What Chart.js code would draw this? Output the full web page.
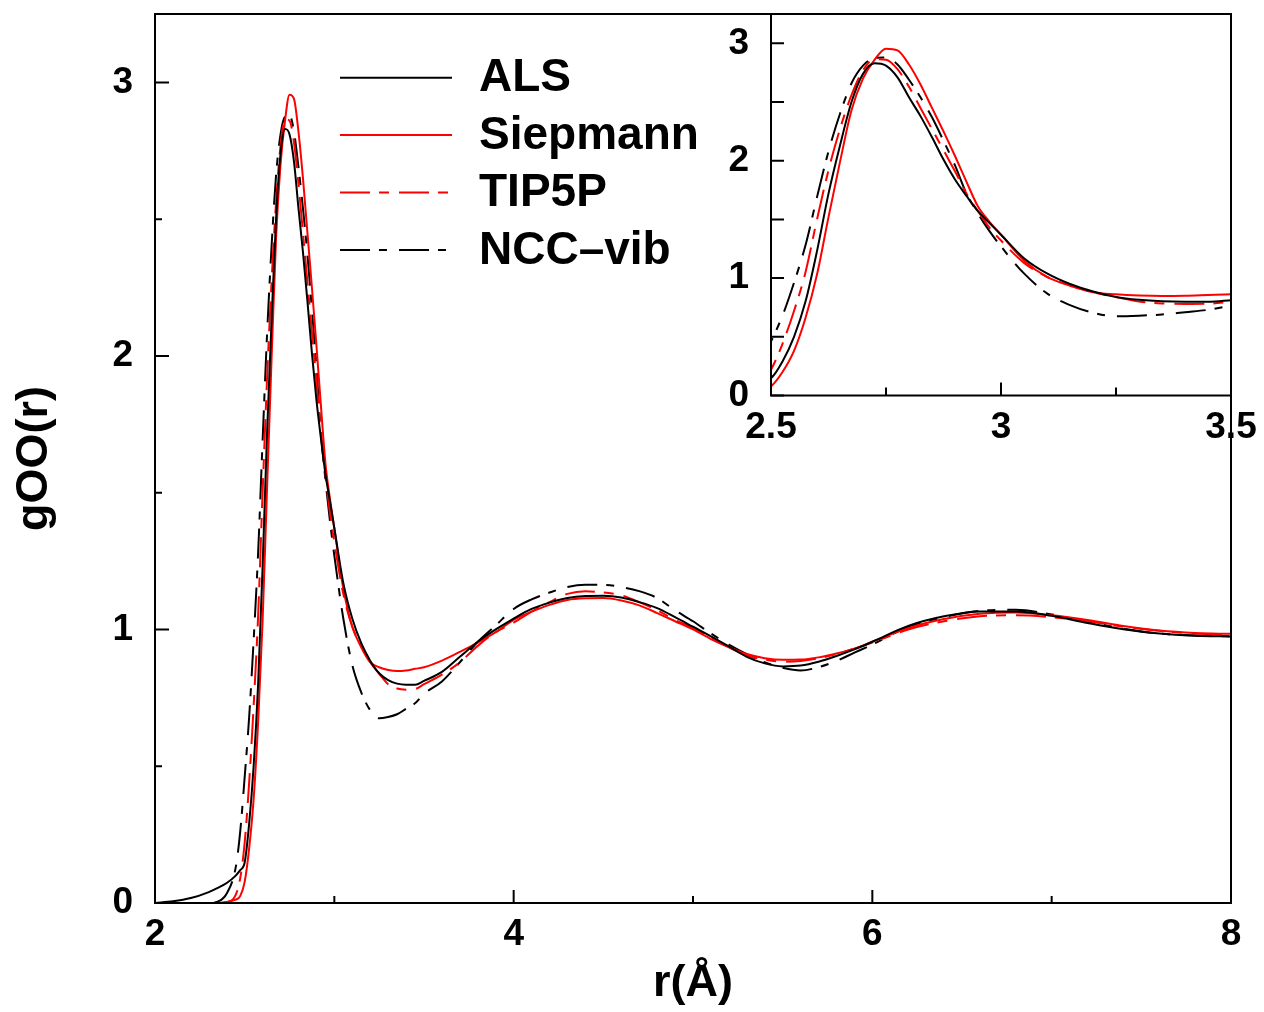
<!DOCTYPE html>
<html><head><meta charset="utf-8">
<script src="https://cdn.jsdelivr.net/npm/chart.js@4"></script>
<style>
html,body{margin:0;padding:0;background:#fff;}
#wrap{position:relative;width:1264px;height:1012px;overflow:hidden;}
#main{position:absolute;left:0;top:0;width:1264px;height:1012px;}
#inset{position:absolute;left:700px;top:0;width:564px;height:460px;}
</style></head><body>
<div id="wrap"><canvas id="main" width="1264" height="1012"></canvas><canvas id="inset" width="564" height="460"></canvas></div>
<script>
// ---- data ----
const r = [2.0, 2.1, 2.2, 2.3, 2.35, 2.4, 2.45, 2.475,
  2.5, 2.525, 2.55, 2.575, 2.6, 2.625, 2.65, 2.675, 2.7, 2.725, 2.75, 2.775, 2.8, 2.825, 2.85, 2.875, 2.9, 2.925, 2.95, 2.975, 3.0,
  3.05, 3.1, 3.15, 3.2, 3.25, 3.3, 3.35, 3.4, 3.45, 3.5,
  3.6, 3.7, 3.8, 3.9, 4.0, 4.1, 4.2, 4.3, 4.4, 4.5, 4.6, 4.7, 4.8, 4.9, 5.0, 5.1, 5.2, 5.3, 5.4, 5.5, 5.6, 5.7, 5.8, 5.9, 6.0,
  6.2, 6.4, 6.6, 6.8, 7.0, 7.2, 7.4, 7.6, 7.8, 8.0];
const als = [0, 0.006, 0.018, 0.04, 0.055, 0.073, 0.10, 0.12,
  0.148, 0.29, 0.50, 0.80, 1.23, 1.72, 2.13, 2.50, 2.74, 2.83, 2.81, 2.71, 2.54, 2.38, 2.20, 2.01, 1.84, 1.70, 1.57, 1.47, 1.37,
  1.17, 1.04, 0.95, 0.886, 0.84, 0.815, 0.802, 0.798, 0.798, 0.812,
  0.845, 0.90, 0.955, 1.00, 1.04, 1.075, 1.098, 1.115, 1.122, 1.123, 1.117, 1.10, 1.078, 1.045, 1.01, 0.975, 0.938, 0.90, 0.876, 0.865, 0.868, 0.882, 0.903, 0.927, 0.955,
  1.013, 1.048, 1.066, 1.066, 1.05, 1.024, 1.001, 0.985, 0.977, 0.974];
const siepmann = [0, 0, 0, 0, 0, 0.004, 0.012, 0.025,
  0.077, 0.20, 0.38, 0.66, 1.03, 1.52, 1.99, 2.43, 2.70, 2.86, 2.955, 2.94, 2.82, 2.65, 2.45, 2.25, 2.04, 1.82, 1.61, 1.48, 1.37,
  1.15, 1.01, 0.935, 0.88, 0.862, 0.852, 0.848, 0.85, 0.856, 0.862,
  0.886, 0.918, 0.952, 0.99, 1.035, 1.065, 1.09, 1.108, 1.114, 1.115, 1.106, 1.088, 1.06, 1.03, 1.0, 0.965, 0.935, 0.91, 0.895, 0.889, 0.89, 0.898, 0.912, 0.93, 0.955,
  1.005, 1.038, 1.057, 1.062, 1.052, 1.035, 1.013, 0.996, 0.987, 0.984];
const tip5p = [0, 0, 0, 0, 0, 0.003, 0.03, 0.09,
  0.22, 0.44, 0.72, 1.05, 1.50, 1.92, 2.27, 2.56, 2.77, 2.865, 2.86, 2.78, 2.63, 2.45, 2.27, 2.09, 1.91, 1.72, 1.57, 1.43, 1.32,
  1.13, 1.01, 0.94, 0.88, 0.838, 0.80, 0.784, 0.78, 0.782, 0.80,
  0.835, 0.88, 0.94, 0.99, 1.025, 1.065, 1.10, 1.13, 1.14, 1.135, 1.125, 1.10, 1.07, 1.035, 1.005, 0.97, 0.935, 0.905, 0.89, 0.882, 0.885, 0.895, 0.91, 0.93, 0.952,
  1.0, 1.03, 1.048, 1.052, 1.045, 1.03, 1.01, 0.995, 0.985, 0.98];
const nccvib = [0, 0, 0, 0, 0.005, 0.035, 0.13, 0.26,
  0.46, 0.68, 0.96, 1.28, 1.69, 2.08, 2.40, 2.66, 2.81, 2.875, 2.88, 2.82, 2.69, 2.54, 2.37, 2.17, 1.96, 1.72, 1.55, 1.40, 1.27,
  1.04, 0.87, 0.77, 0.705, 0.675, 0.68, 0.69, 0.71, 0.73, 0.765,
  0.81, 0.88, 0.955, 1.015, 1.075, 1.11, 1.135, 1.155, 1.163, 1.163, 1.155, 1.14, 1.115, 1.07, 1.03, 0.985, 0.945, 0.91, 0.88, 0.86, 0.85, 0.862, 0.885, 0.915, 0.945,
  1.01, 1.045, 1.068, 1.072, 1.055, 1.028, 1.003, 0.985, 0.978, 0.975];
const seriesNames = ['ALS', 'Siepmann', 'TIP5P', 'NCC\u2013vib'];
const mainXTicks = [2, 4, 6, 8];
const mainXMinor = [3, 5, 7];
const mainYTicks = [0, 1, 2, 3];
const mainYMinor = [0.5, 1.5, 2.5];
const insetXTicks = [2.5, 3, 3.5];
const insetXMinor = [2.75, 3.25];
const insetYTicks = [0, 1, 2, 3];
const insetYMinor = [0.5, 1.5, 2.5];

const FONT = '"Liberation Sans", Arial, Helvetica, sans-serif';

function makeDatasets() {
  const styles = [
    {c: '#000000', d: []},
    {c: '#ff0000', d: []},
    {c: '#ff0000', d: [30, 9, 10, 10]},
    {c: '#000000', d: [30, 9, 8, 12]}
  ];
  return [als, siepmann, tip5p, nccvib].map((vals, i) => ({
    label: seriesNames[i],
    data: r.map((x, k) => ({x: x, y: vals[k]})),
    borderColor: styles[i].c,
    borderDash: styles[i].d,
    borderWidth: 2,
    pointRadius: 0,
    fill: false,
    cubicInterpolationMode: 'monotone'
  }));
}

const frameTicks = {
  id: 'frameTicks',
  beforeDatasetsDraw(chart, args, o) {
    if (!o.fillArea) return;
    const {ctx, chartArea: a} = chart;
    ctx.save(); ctx.fillStyle = '#fff';
    ctx.fillRect(a.left, a.top, a.right - a.left, a.bottom - a.top);
    ctx.restore();
  },
  afterDraw(chart, args, o) {
    const {ctx, chartArea: a, scales: {x, y}} = chart;
    ctx.save();
    ctx.strokeStyle = '#000'; ctx.lineWidth = 2; ctx.setLineDash([]);
    ctx.strokeRect(a.left, a.top, a.right - a.left, a.bottom - a.top);
    ctx.beginPath();
    const xt = (vals, len) => vals.forEach(v => { const p = x.getPixelForValue(v); ctx.moveTo(p, a.bottom); ctx.lineTo(p, a.bottom - len); });
    const yt = (vals, len) => vals.forEach(v => { const p = y.getPixelForValue(v); ctx.moveTo(a.left, p); ctx.lineTo(a.left + len, p); });
    xt(o.xMajor, o.xMajorLen); xt(o.xMinor, o.xMinorLen);
    yt(o.yMajor, o.yMajorLen); yt(o.yMinor, o.yMinorLen);
    ctx.stroke();
    ctx.restore();
  }
};

const lineLegend = {
  id: 'lineLegend',
  afterDraw(chart, args, o) {
    if (!o.show) return;
    const ctx = chart.ctx;
    ctx.save();
    ctx.font = 'bold 46px ' + FONT;
    ctx.textBaseline = 'middle';
    ctx.textAlign = 'left';
    chart.data.datasets.forEach((ds, i) => {
      const yy = o.y0 + i * o.dy;
      ctx.strokeStyle = ds.borderColor; ctx.lineWidth = ds.borderWidth;
      ctx.setLineDash(ds.borderDash || []);
      ctx.beginPath(); ctx.moveTo(o.x0, yy); ctx.lineTo(o.x1, yy); ctx.stroke();
      ctx.setLineDash([]);
      ctx.fillStyle = '#000';
      ctx.fillText(ds.label, o.tx, yy + o.ty);
    });
    ctx.restore();
  }
};

function zeroPad(s) { s.paddingTop = 0; s.paddingBottom = 0; s.paddingLeft = 0; s.paddingRight = 0; }
const tickFont = {family: FONT, size: 37, weight: 'bold'};
const plainLabel = v => String(v);

new Chart(document.getElementById('main'), {
  type: 'line',
  data: {datasets: makeDatasets()},
  plugins: [frameTicks, lineLegend],
  options: {
    responsive: false, animation: false, devicePixelRatio: 1,
    layout: {padding: {top: 14, right: 33, left: 0, bottom: 0}},
    plugins: {
      legend: {display: false}, tooltip: {enabled: false},
      frameTicks: {xMajor: mainXTicks, xMinor: mainXMinor, yMajor: mainYTicks, yMinor: mainYMinor,
        xMajorLen: 13, xMinorLen: 7, yMajorLen: 14, yMinorLen: 7, fillArea: false},
      lineLegend: {show: true, x0: 340, x1: 452, y0: 77.7, dy: 57.4, tx: 479, ty: 1}
    },
    scales: {
      x: {
        type: 'linear', min: 2, max: 8,
        afterBuildTicks: s => { s.ticks = mainXTicks.map(v => ({value: v})); },
        afterFit: s => { s.height = 109; zeroPad(s); },
        grid: {display: false, drawTicks: false}, border: {display: false},
        ticks: {font: tickFont, color: '#000', padding: 10, maxRotation: 0, callback: plainLabel},
        title: {display: true, text: 'r(\u00C5)', color: '#000', font: {family: FONT, size: 45, weight: 'bold'}, padding: {top: 0, bottom: 1}}
      },
      y: {
        type: 'linear', min: 0, max: 3.25,
        afterBuildTicks: s => { s.ticks = mainYTicks.map(v => ({value: v})); },
        afterFit: s => { s.width = 155; zeroPad(s); },
        grid: {display: false, drawTicks: false}, border: {display: false},
        ticks: {font: tickFont, color: '#000', padding: 22, callback: plainLabel},
        title: {display: true, text: 'gOO(r)', color: '#000', font: {family: FONT, size: 45, weight: 'bold'}, padding: {top: 8, bottom: 0}}
      }
    }
  }
});

new Chart(document.getElementById('inset'), {
  type: 'line',
  data: {datasets: makeDatasets()},
  plugins: [frameTicks],
  options: {
    responsive: false, animation: false, devicePixelRatio: 1,
    layout: {padding: {top: 14, right: 33, left: 0, bottom: 0}},
    plugins: {
      legend: {display: false}, tooltip: {enabled: false},
      frameTicks: {xMajor: insetXTicks, xMinor: insetXMinor, yMajor: insetYTicks, yMinor: insetYMinor,
        xMajorLen: 13, xMinorLen: 8, yMajorLen: 13, yMinorLen: 13, fillArea: true}
    },
    scales: {
      x: {
        type: 'linear', min: 2.5, max: 3.5,
        afterBuildTicks: s => { s.ticks = insetXTicks.map(v => ({value: v})); },
        afterFit: s => { s.height = 64.5; zeroPad(s); },
        grid: {display: false, drawTicks: false}, border: {display: false},
        ticks: {font: tickFont, color: '#000', padding: 10, maxRotation: 0, callback: plainLabel}
      },
      y: {
        type: 'linear', min: 0, max: 3.25,
        afterBuildTicks: s => { s.ticks = insetYTicks.map(v => ({value: v})); },
        afterFit: s => { s.width = 71; zeroPad(s); },
        grid: {display: false, drawTicks: false}, border: {display: false},
        ticks: {font: tickFont, color: '#000', padding: 22, callback: plainLabel}
      }
    }
  }
});
</script>
</body></html>
